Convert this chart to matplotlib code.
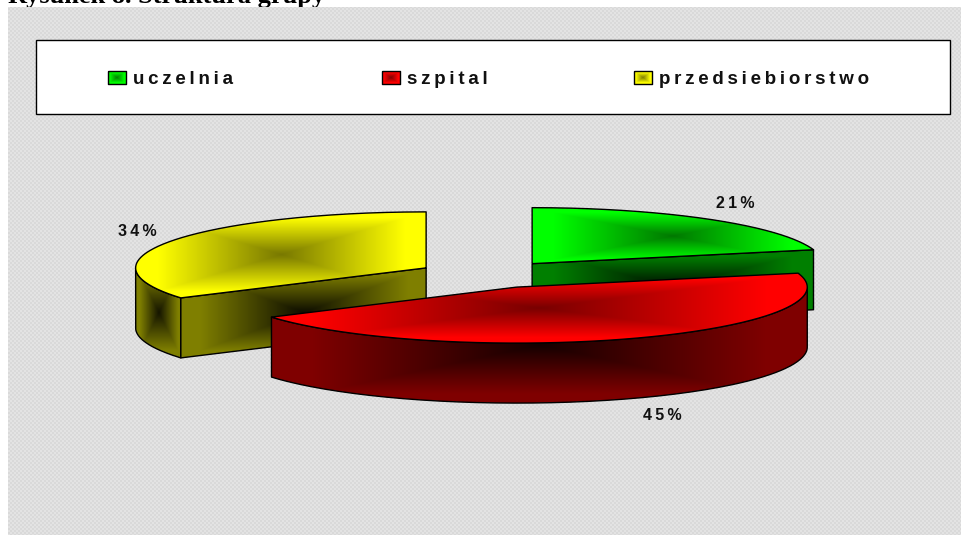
import numpy as np
import matplotlib
matplotlib.use("Agg")
import matplotlib.pyplot as plt
from matplotlib.path import Path
from matplotlib.patches import PathPatch, Rectangle

title = "Rysunek 8. Struktura grupy"
names = ["uczelnia", "szpital", "przedsiebiorstwo"]
shares = [21, 45, 34]
colors = [(0, 1, 0), (1, 0, 0), (1, 1, 0)]

# pie geometry in pixels
cx, cy = 488.5, 274.5
rx, ry = 290.5, 56
depth = 60
explode = 0.245

plt.rcParams['font.family'] = ['Liberation Sans']
W, H = 962, 535
fig = plt.figure(figsize=(W / 100, H / 100), dpi=100)
ax = fig.add_axes([0, 0, 1, 1])
ax.set_xlim(0, W)
ax.set_ylim(H, 0)
ax.axis('off')


def spaced(s):
    return "\u2009".join(s)


def rim(theta, x0, y0):
    return np.column_stack([x0 + rx * np.sin(theta), y0 - ry * np.cos(theta)])


def gradient_face(pts, col, edge, centre, sat=0.85):
    # rectangular path gradient over the bounding box of the face
    x0, x1 = pts[:, 0].min(), pts[:, 0].max()
    y0, y1 = pts[:, 1].min(), pts[:, 1].max()
    nx, ny = max(int(x1 - x0), 2), max(int(y1 - y0), 2)
    u, v = np.meshgrid(np.linspace(-1, 1, nx), np.linspace(-1, 1, ny))
    t = np.clip(np.maximum(np.abs(u), np.abs(v)) / sat, 0, 1)
    level = centre + (edge - centre) * t
    img = level[..., None] * np.array(col)
    im = ax.imshow(img, extent=[x0, x1, y1, y0], interpolation='bilinear', aspect='auto', zorder=zo[0])
    closed = np.vstack([pts, pts[:1]])
    patch = PathPatch(Path(closed), facecolor='none', edgecolor='black', lw=1.0, zorder=zo[0] + 0.1, joinstyle='round')
    ax.add_patch(patch)
    im.set_clip_path(patch)
    zo[0] += 1


zo = [3]

# background
yy, xx = np.mgrid[7:H, 8:W]
tex = 0.85 + 0.04 * (((xx // 2) + (yy // 2)) % 2)
ax.imshow(tex, cmap='gray', vmin=0, vmax=1, extent=[8, W, H, 7], interpolation='nearest', aspect='auto', zorder=1)
ax.set_xlim(0, W)
ax.set_ylim(H, 0)

ax.text(8, 3, title, family='Liberation Serif', fontweight='bold', fontsize=19, va='baseline', ha='left', zorder=0.5)

# legend
ax.add_patch(Rectangle((37, 41), 914, 74, facecolor='#777777', edgecolor='none', zorder=2))
ax.add_patch(Rectangle((36, 40), 914, 74, facecolor='white', edgecolor='black', lw=1, zorder=2.5))
legend_x = [108, 382, 634]
for name, col, lx in zip(names, colors, legend_x):
    sw = np.array([[lx, 71], [lx + 18, 71], [lx + 18, 84], [lx, 84]], dtype=float)
    gradient_face(sw, col, 1.0, 0.5)
    ax.text(lx + 25, 84.5, spaced(name), fontweight='bold', fontsize=13.5, va='baseline', ha='left', zorder=4, color='#111111')

# slices
fr = np.array(shares) / sum(shares)
ends = np.cumsum(fr) * 2 * np.pi
starts = ends - fr * 2 * np.pi
draw_order = [0, 2, 1]
for i in draw_order:
    a, b, col = starts[i], ends[i], colors[i]
    mid = (a + b) / 2
    x0 = cx + explode * rx * np.sin(mid)
    y0 = cy - explode * ry * np.cos(mid)
    apex = np.array([[x0, y0]])
    down = np.array([0, depth])

    # outer wall, only the front half of the ellipse
    w0, w1 = max(a, np.pi / 2), min(b, 3 * np.pi / 2)
    if w1 > w0:
        arc = rim(np.linspace(w0, w1, 120), x0, y0)
        gradient_face(np.vstack([arc, arc[::-1] + down]), col, 0.5, 0.08)
    # cut faces turned to the viewer
    if np.sin(a) < -1e-6:
        p = rim(np.array([a]), x0, y0)
        gradient_face(np.vstack([apex, p, p + down, apex + down]), col, 0.5, 0.05)
    if np.sin(b) > 1e-6:
        p = rim(np.array([b]), x0, y0)
        gradient_face(np.vstack([apex, p, p + down, apex + down]), col, 0.5, 0.05)
    # top
    arc = rim(np.linspace(a, b, 200), x0, y0)
    gradient_face(np.vstack([apex, arc]), col, 1.0, 0.47)

label_x = [735, 662, 137]
label_y = [203, 415, 231]
for s, lx, ly in zip(shares, label_x, label_y):
    ax.text(lx, ly, spaced(str(s) + "%"), fontweight='bold', fontsize=11.5, ha='center', va='center', color='#111111', zorder=50)

fig.savefig("out.png", dpi=100)
